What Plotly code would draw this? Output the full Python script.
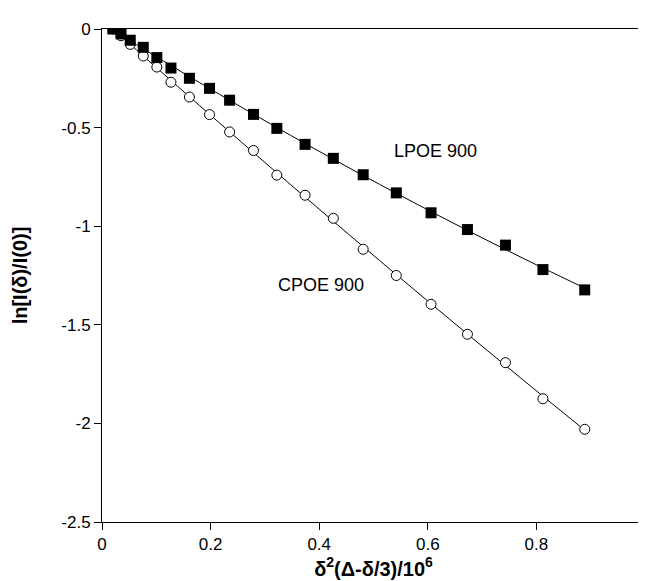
import numpy as np
import plotly.graph_objects as go

# Data
x_vals = [0.020, 0.035, 0.052, 0.076, 0.101, 0.127, 0.161, 0.198, 0.235, 0.279,
          0.322, 0.374, 0.426, 0.481, 0.542, 0.606, 0.673, 0.743, 0.812, 0.889]
lpoe_900 = [0.000, -0.025, -0.057, -0.093, -0.145, -0.198, -0.250, -0.301, -0.361, -0.433,
            -0.504, -0.585, -0.656, -0.739, -0.831, -0.932, -1.017, -1.096, -1.220, -1.323]
cpoe_900 = [0.000, -0.034, -0.078, -0.137, -0.193, -0.270, -0.345, -0.434, -0.522, -0.616,
            -0.741, -0.843, -0.960, -1.117, -1.250, -1.396, -1.548, -1.692, -1.875, -2.030]

x_ticks = [0, 0.2, 0.4, 0.6, 0.8, 1]
x_tick_labels = ["0", "0.2", "0.4", "0.6", "0.8", "1"]
y_ticks = [0, -0.5, -1, -1.5, -2, -2.5]
y_tick_labels = ["0", "-0.5", "-1", "-1.5", "-2", "-2.5"]

label_lpoe = "LPOE 900"
label_cpoe = "CPOE 900"

FONT = "Arial, Liberation Sans, sans-serif"

# Smooth fitted curves derived from the data (quadratic least squares)
xa = np.array(x_vals)
fit_l = np.polyval(np.polyfit(xa, np.array(lpoe_900), 2), xa)
fit_c = np.polyval(np.polyfit(xa, np.array(cpoe_900), 2), xa)

fig = go.Figure()
fig.add_trace(go.Scatter(x=x_vals, y=fit_l, mode="lines", line=dict(color="black", width=1, shape="spline"),
                         showlegend=False, hoverinfo="skip"))
fig.add_trace(go.Scatter(x=x_vals, y=fit_c, mode="lines", line=dict(color="black", width=1, shape="spline"),
                         showlegend=False, hoverinfo="skip"))
fig.add_trace(go.Scatter(x=x_vals, y=cpoe_900, mode="markers", name=label_cpoe,
                         marker=dict(symbol="circle", size=10, color="white",
                                     line=dict(color="black", width=1)),
                         showlegend=False))
fig.add_trace(go.Scatter(x=x_vals, y=lpoe_900, mode="markers", name=label_lpoe,
                         marker=dict(symbol="square", size=11, color="black",
                                     line=dict(color="black", width=0)),
                         showlegend=False))

fig.add_annotation(x=0.534, y=-0.62, text=label_lpoe, showarrow=False, xanchor="left", yanchor="middle",
                   font=dict(family=FONT, size=18, color="black"))
fig.add_annotation(x=0.321, y=-1.30, text=label_cpoe, showarrow=False, xanchor="left", yanchor="middle",
                   font=dict(family=FONT, size=18, color="black"))

fig.update_layout(
    width=646, height=581,
    margin=dict(l=94, r=4, t=21, b=67),
    plot_bgcolor="white", paper_bgcolor="white",
    font=dict(family=FONT, size=17, color="black"),
    showlegend=False,
)
fig.update_xaxes(
    range=[0, 1], tickvals=x_ticks, ticktext=x_tick_labels,
    showgrid=False, zeroline=False, showline=True, linecolor="black", linewidth=1, mirror=True,
    ticks="outside", ticklen=7, tickcolor="black", tickwidth=1, ticklabeloverflow="allow",
    title=dict(text="<b>δ<sup>2</sup>(Δ-δ/3)/10<sup>6</sup></b>", font=dict(size=20), standoff=7),
)
fig.update_yaxes(
    range=[-2.5, 0], tickvals=y_ticks, ticktext=y_tick_labels,
    showgrid=False, zeroline=False, showline=True, linecolor="black", linewidth=1, mirror=True,
    ticks="outside", ticklen=7, tickcolor="black", tickwidth=1, ticklabeloverflow="allow",
    title=dict(text="<b>ln[I(δ)/I(0)]</b>", font=dict(size=20), standoff=28),
)

fig.write_html("out.html")
